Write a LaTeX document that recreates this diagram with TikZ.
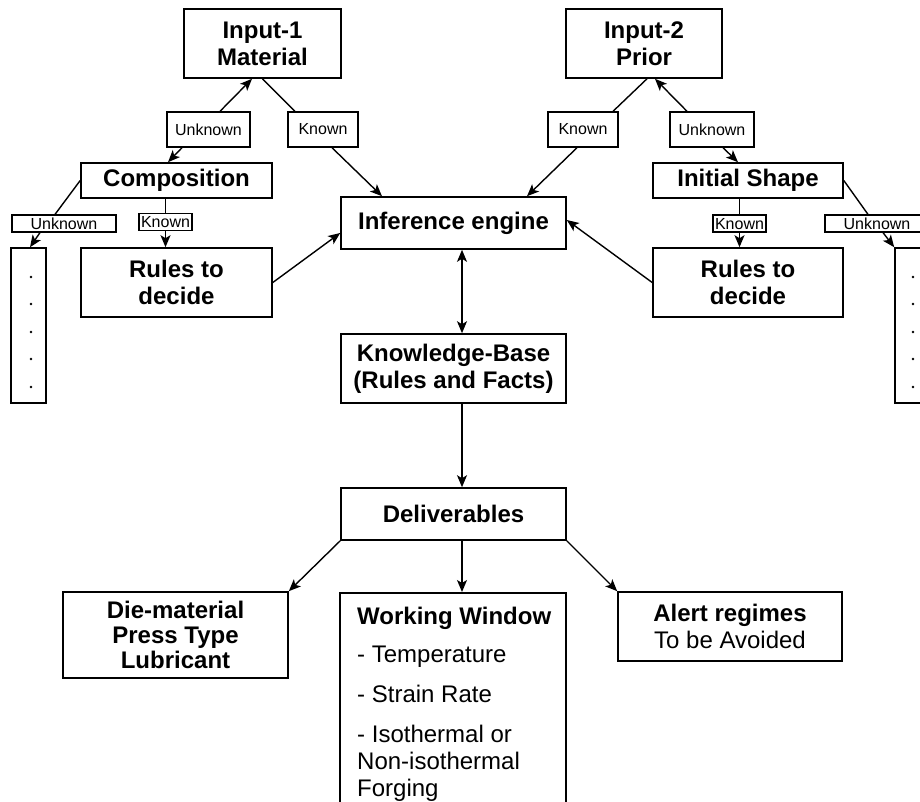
\documentclass[tikz,border=0pt]{standalone}
\usepackage{fontspec}
\setmainfont{Liberation Sans}
\usetikzlibrary{arrows.meta}

\tikzset{
  >={Stealth[length=12pt,width=10pt,inset=3pt]},
  box/.style={draw, line width=1.6pt, inner sep=0pt, align=center,
    font=\fontsize{24}{27}\selectfont\bfseries},
  flagbox/.style={draw, line width=1.4pt, inner sep=0pt, minimum height=35pt,
    font=\fontsize{16}{18}\selectfont},
  miniflag/.style={draw, line width=1.2pt, inner sep=0pt, minimum height=17pt,
    text depth=0pt, font=\fontsize{16}{16}\selectfont},
  conn/.style={line width=1.4pt, ->},
}

\begin{document}
\begin{tikzpicture}[x=1pt, y=-1pt]
  \useasboundingbox (0,0) rectangle (920,801);
  \clip (0,0) rectangle (920,801);

  \node[box, minimum width=157pt, minimum height=69pt] (in-1) at (262.5,43.5) {Input-1\\Material};
  \node[box, minimum width=156pt, minimum height=69pt] (in-2) at (644,43.5) {Input-2\\Prior};

  \node[flagbox, minimum width=83pt] (unk-1) at (208.5,129.5) {Unknown};
  \node[flagbox, minimum width=70pt] (kn-1) at (323,129.5) {Known};
  \node[flagbox, minimum width=70pt] (kn-2) at (583,129.5) {Known};
  \node[flagbox, minimum width=84pt] (unk-2) at (712,129.5) {Unknown};

  \node[box, minimum width=191pt, minimum height=35pt] (comp) at (176.5,180.5) {Composition};
  \node[box, minimum width=190pt, minimum height=35pt] (shape) at (748,180.5) {Initial Shape};

  \node[miniflag, minimum width=104pt] (sunk-1) at (64,223.5) {Unknown};
  \node[miniflag, minimum width=53pt] (skn-1) at (165.5,222) {Known};
  \node[miniflag, minimum width=53pt] (skn-2) at (739.5,223.5) {Known};
  \node[miniflag, minimum width=104pt] (sunk-2) at (877,223.5) {Unknown};

  \node[box, minimum width=191pt, minimum height=69pt] (rules-1) at (176.5,282.5) {Rules to\\decide};
  \node[box, minimum width=190pt, minimum height=69pt] (rules-2) at (748,282.5) {Rules to\\decide};

  \node[box, minimum width=35pt, minimum height=155pt] (col-1) at (28.5,325.5) {};
  \node[box, minimum width=35pt, minimum height=155pt] (col-2) at (912.5,325.5) {};
  \foreach \y in {277, 304, 332, 359, 387} {
    \fill (31,\y) circle (1.3pt);
    \fill (913,\y) circle (1.3pt);
  }

  \node[box, minimum width=225pt, minimum height=52pt] (ie) at (453.5,223) {Inference engine};
  \node[box, minimum width=225pt, minimum height=69pt] (kb) at (453.5,368.5) {Knowledge-Base\\(Rules and Facts)};
  \node[box, minimum width=225pt, minimum height=52pt] (deliv) at (453.5,514) {Deliverables};

  \node[box, minimum width=225pt, minimum height=86pt, font=\fontsize{24}{25}\selectfont\bfseries] (die) at (175.5,635) {Die-material\\Press Type\\Lubricant};
  \node[box, minimum width=226pt, minimum height=230pt, anchor=north] (ww) at (453,592) {};
  \node[anchor=north west, align=left, inner sep=0pt, font=\fontsize{24}{27}\selectfont] (ww-text) at (357,607)
    {\textbf{Working Window}\\[11pt]- Temperature\\[13pt]- Strain Rate\\[13pt]- Isothermal or\\Non-isothermal\\Forging};
  \node[box, minimum width=224pt, minimum height=69pt] (alert) at (730,626.5) {Alert regimes\\\mdseries To be Avoided};

  \draw[conn] ([xshift=11.5pt]unk-1.north) -- ([xshift=-10.5pt]in-1.south);
  \draw[conn] ([xshift=-26.5pt]unk-1.south) -- ([xshift=-8.5pt]comp.north);
  \draw[conn, -] (in-1.south) -- ([xshift=-28pt]kn-1.north);
  \draw[conn] ([xshift=9pt]kn-1.south) -- ([xshift=-71.5pt]ie.north);
  \draw[conn, -] (comp.west) -- ([xshift=-9pt]sunk-1.north);
  \draw[conn] ([xshift=-24pt]sunk-1.south) -- ([xshift=1.5pt]col-1.north);
  \draw[conn, -] (comp.south -| skn-1) -- (skn-1.north);
  \draw[conn] (skn-1.south) -- (rules-1.north -| skn-1);
  \draw[conn] (rules-1.east) -- ([yshift=-10pt]ie.west);

  \draw[conn, -] ([xshift=3pt]in-2.south) -- ([xshift=30pt]kn-2.north);
  \draw[conn] ([xshift=-6pt]kn-2.south) -- ([xshift=73.5pt]ie.north);
  \draw[conn] ([xshift=-25pt]unk-2.north) -- ([xshift=11pt]in-2.south);
  \draw[conn] ([xshift=11pt]unk-2.south) -- ([xshift=-10pt]shape.north);
  \draw[conn, -] (shape.south -| skn-2) -- (skn-2.north);
  \draw[conn] (skn-2.south) -- (rules-2.north -| skn-2);
  \draw[conn, -] (shape.east) -- ([xshift=-9pt]sunk-2.north);
  \draw[conn] ([xshift=6pt]sunk-2.south) -- (col-2.north west);
  \draw[conn] (rules-2.west) -- ([yshift=3pt]ie.east);

  \draw[conn, <->] ([xshift=8.5pt]ie.south) -- ([xshift=8.5pt]kb.north);
  \draw[conn] ([xshift=8.5pt]kb.south) -- ([xshift=8.5pt]deliv.north);
  \draw[conn] (deliv.south west) -- (die.north east);
  \draw[conn] ([xshift=8.5pt]deliv.south) -- ([xshift=8.5pt]deliv.south |- ww.north);
  \draw[conn] (deliv.south east) -- (alert.north west);
\end{tikzpicture}
\end{document}
